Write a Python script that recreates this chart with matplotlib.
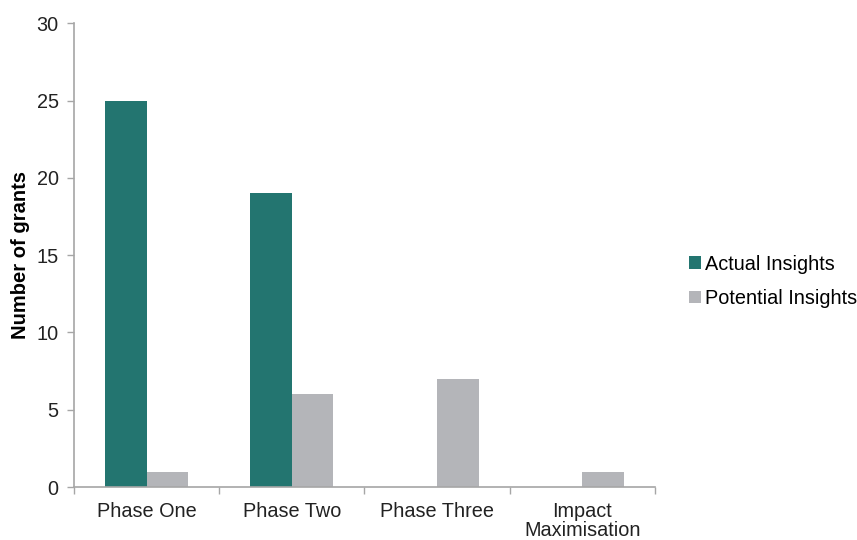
import matplotlib.pyplot as plt
import numpy as np

# data
phases = ["Phase One", "Phase Two", "Phase Three", "Impact\nMaximisation"]
actual = [25, 19, 0, 0]
potential = [1, 6, 7, 1]

teal = "#237570"
grey = "#b4b5b9"
axcol = "#a6a6a6"

plt.rcParams['font.family'] = ['Liberation Sans', 'DejaVu Sans']

fig = plt.figure(figsize=(8.57, 5.4), dpi=100)
ax = fig.add_axes([0.0863, 0.098, 0.678, 0.859])

x = np.arange(len(phases))
w = 0.286
ax.bar(x - w/2, actual, w, color=teal, label="Actual Insights")
ax.bar(x + w/2, potential, w, color=grey, label="Potential Insights")

ax.set_xlim(-0.5, len(phases) - 0.5)
ax.set_ylim(0, 30)
ax.set_yticks(range(0, 31, 5))
ax.set_xticks(x)
ax.set_xticklabels(phases, fontsize=14.3, color="#222222", linespacing=0.95)
ax.set_xticks(np.arange(-0.5, len(phases), 1), minor=True)
ax.tick_params(axis='x', which='major', length=0, pad=11)
ax.tick_params(axis='x', which='minor', length=5, color=axcol, width=1)
ax.tick_params(axis='y', length=5, color=axcol, width=1, labelsize=14.3,
               labelcolor="#222222", pad=6)

for s in ["top", "right"]:
    ax.spines[s].set_visible(False)
for s in ["left", "bottom"]:
    ax.spines[s].set_color(axcol)
    ax.spines[s].set_linewidth(1.2)

ax.set_ylabel("Number of grants", fontsize=14.5, fontweight="bold", labelpad=5)

fig.legend(loc="center left", bbox_to_anchor=(0.795, 0.479), frameon=False,
           fontsize=14.3, handlelength=0.6, handleheight=0.6, handletextpad=0.2,
           labelspacing=0.76, borderaxespad=0)

fig.savefig("out.png", dpi=100)
